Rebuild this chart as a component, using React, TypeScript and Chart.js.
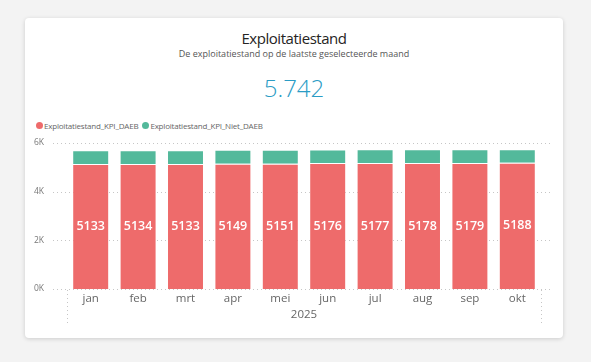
import React, { useEffect, useRef } from "react";
import { Chart, registerables } from "chart.js";

Chart.register(...registerables);

const months = ["jan", "feb", "mrt", "apr", "mei", "jun", "jul", "aug", "sep", "okt"];
const daeb = [5133, 5134, 5133, 5149, 5151, 5176, 5177, 5178, 5179, 5188];
const nietDaeb = [567, 568, 570, 571, 571, 562, 563, 562, 562, 554];
const yTickValues = [0, 2000, 4000, 6000];
const yearLabel = "2025";
const seriesNames = ["Exploitatiestand_KPI_DAEB", "Exploitatiestand_KPI_Niet_DAEB"];
const titleText = "Exploitatiestand";
const subtitleText = "De exploitatiestand op de laatste geselecteerde maand";

const RED = "#EE6B6B";
const GREEN = "#53B99B";
const FONT = "'Open Sans', 'Noto Sans', sans-serif";

function formatNl(n: number): string {
  const s = String(Math.round(n));
  return s.replace(/\B(?=(\d{3})+(?!\d))/g, ".");
}

const gridPlugin = {
  id: "pbiGrid",
  beforeDatasetsDraw(chart: any) {
    const { ctx, scales } = chart;
    const x = scales.x;
    const y = scales.y;
    ctx.save();
    ctx.strokeStyle = "#c6c6c6";
    ctx.lineWidth = 1;
    ctx.setLineDash([1, 3]);
    yTickValues.forEach((v) => {
      const py = Math.round(y.getPixelForValue(v)) + 0.5;
      ctx.beginPath();
      ctx.moveTo(x.left - 14, py);
      ctx.lineTo(x.right + 12, py);
      ctx.stroke();
    });
    [x.left, x.right].forEach((px: number) => {
      const p = Math.round(px) + 0.5;
      ctx.beginPath();
      ctx.moveTo(p, y.bottom + 1);
      ctx.lineTo(p, y.bottom + 35);
      ctx.stroke();
    });
    ctx.restore();
  },
};

const labelPlugin = {
  id: "pbiLabels",
  afterDatasetsDraw(chart: any) {
    const { ctx } = chart;
    const meta = chart.getDatasetMeta(0);
    ctx.save();
    ctx.fillStyle = "#ffffff";
    ctx.font = `600 12.5px ${FONT}`;
    ctx.textAlign = "center";
    ctx.textBaseline = "middle";
    meta.data.forEach((bar: any, i: number) => {
      const p = bar.getProps(["x", "y", "base"], true);
      ctx.fillText(String(daeb[i]), p.x, (p.y + p.base) / 2);
    });
    ctx.restore();
  },
};

function BarChart() {
  const ref = useRef<HTMLCanvasElement | null>(null);
  useEffect(() => {
    if (!ref.current) return;
    const chart = new Chart(ref.current, {
      type: "bar",
      data: {
        labels: months,
        datasets: [
          {
            label: seriesNames[0],
            data: daeb,
            backgroundColor: RED,
            borderColor: "rgba(255,255,255,0.3)",
            borderWidth: 1,
            barPercentage: 0.78,
            categoryPercentage: 1,
          },
          {
            label: seriesNames[1],
            data: nietDaeb,
            backgroundColor: GREEN,
            borderColor: "rgba(255,255,255,0.3)",
            borderWidth: 1,
            barPercentage: 0.78,
            categoryPercentage: 1,
          },
        ],
      },
      options: {
        animation: false,
        responsive: false,
        maintainAspectRatio: false,
        layout: { padding: { top: 8, right: 22, bottom: 0, left: 0 } },
        plugins: {
          legend: { display: false },
          tooltip: { enabled: false },
        },
        scales: {
          x: {
            stacked: true,
            grid: { display: false, drawTicks: false },
            border: { display: false },
            ticks: {
              color: "#666666",
              font: { family: FONT, size: 11.5 },
              padding: 3,
            },
            title: {
              display: true,
              text: yearLabel,
              color: "#666666",
              font: { family: FONT, size: 11.5 },
              padding: { top: 0, bottom: 13 },
            },
            afterFit(scale: any) {
              scale.height = 46;
              scale.paddingLeft = 0;
              scale.paddingRight = 0;
            },
          },
          y: {
            stacked: true,
            min: 0,
            max: 6000,
            grid: { display: false, drawTicks: false },
            border: { display: false },
            afterBuildTicks(scale: any) {
              scale.ticks = yTickValues.map((v) => ({ value: v }));
            },
            ticks: {
              color: "#777777",
              font: { family: FONT, size: 8.5 },
              padding: 23,
              callback: (v: any) => `${Number(v) / 1000}K`,
            },
            afterFit(scale: any) {
              scale.width = 42;
              scale.paddingTop = 0;
              scale.paddingBottom = 0;
            },
          },
        },
      },
      plugins: [gridPlugin, labelPlugin],
    });
    return () => chart.destroy();
  }, []);
  return (
    <canvas
      ref={ref}
      width={538}
      height={200}
      style={{ position: "absolute", left: 25, top: 135, width: 538, height: 200 }}
    />
  );
}

export default function App() {
  const lastTotal = daeb[daeb.length - 1] + nietDaeb[nietDaeb.length - 1];
  const legendColors = [RED, GREEN];
  return (
    <div
      style={{
        position: "fixed",
        left: 0,
        top: 0,
        width: 591,
        height: 362,
        background: "#f3f3f3",
        overflow: "hidden",
        fontFamily: FONT,
      }}
    >
      <div
        style={{
          position: "absolute",
          left: 25,
          top: 18,
          width: 538,
          height: 320,
          background: "#ffffff",
          borderRadius: 4,
          boxShadow: "0 1px 4px rgba(0,0,0,0.16)",
        }}
      />
      <div
        style={{
          position: "absolute",
          left: 25,
          top: 29,
          width: 538,
          textAlign: "center",
          fontSize: 15,
          lineHeight: "18px",
          letterSpacing: "-0.45px",
          color: "#252423",
        }}
      >
        {titleText}
      </div>
      <div
        style={{
          position: "absolute",
          left: 25,
          top: 47.5,
          width: 538,
          textAlign: "center",
          fontSize: 9,
          lineHeight: "12px",
          color: "#555555",
        }}
      >
        {subtitleText}
      </div>
      <div
        style={{
          position: "absolute",
          left: 25,
          top: 73.5,
          width: 538,
          textAlign: "center",
          fontSize: 24,
          fontWeight: 300,
          lineHeight: "28px",
          color: "#2A9CC5",
        }}
      >
        {formatNl(lastTotal)}
      </div>
      <div
        style={{
          position: "absolute",
          left: 36,
          top: 119,
          height: 13,
          display: "flex",
          alignItems: "center",
          fontSize: 8,
          letterSpacing: "-0.2px",
          color: "#666666",
          whiteSpace: "nowrap",
        }}
      >
        {seriesNames.map((name, i) => (
          <span key={name} style={{ display: "flex", alignItems: "center", marginRight: 4 }}>
            <span
              style={{
                display: "inline-block",
                width: 7,
                height: 7,
                borderRadius: "50%",
                background: legendColors[i],
                marginRight: 1,
              }}
            />
            <span>{name}</span>
          </span>
        ))}
      </div>
      <BarChart />
    </div>
  );
}
